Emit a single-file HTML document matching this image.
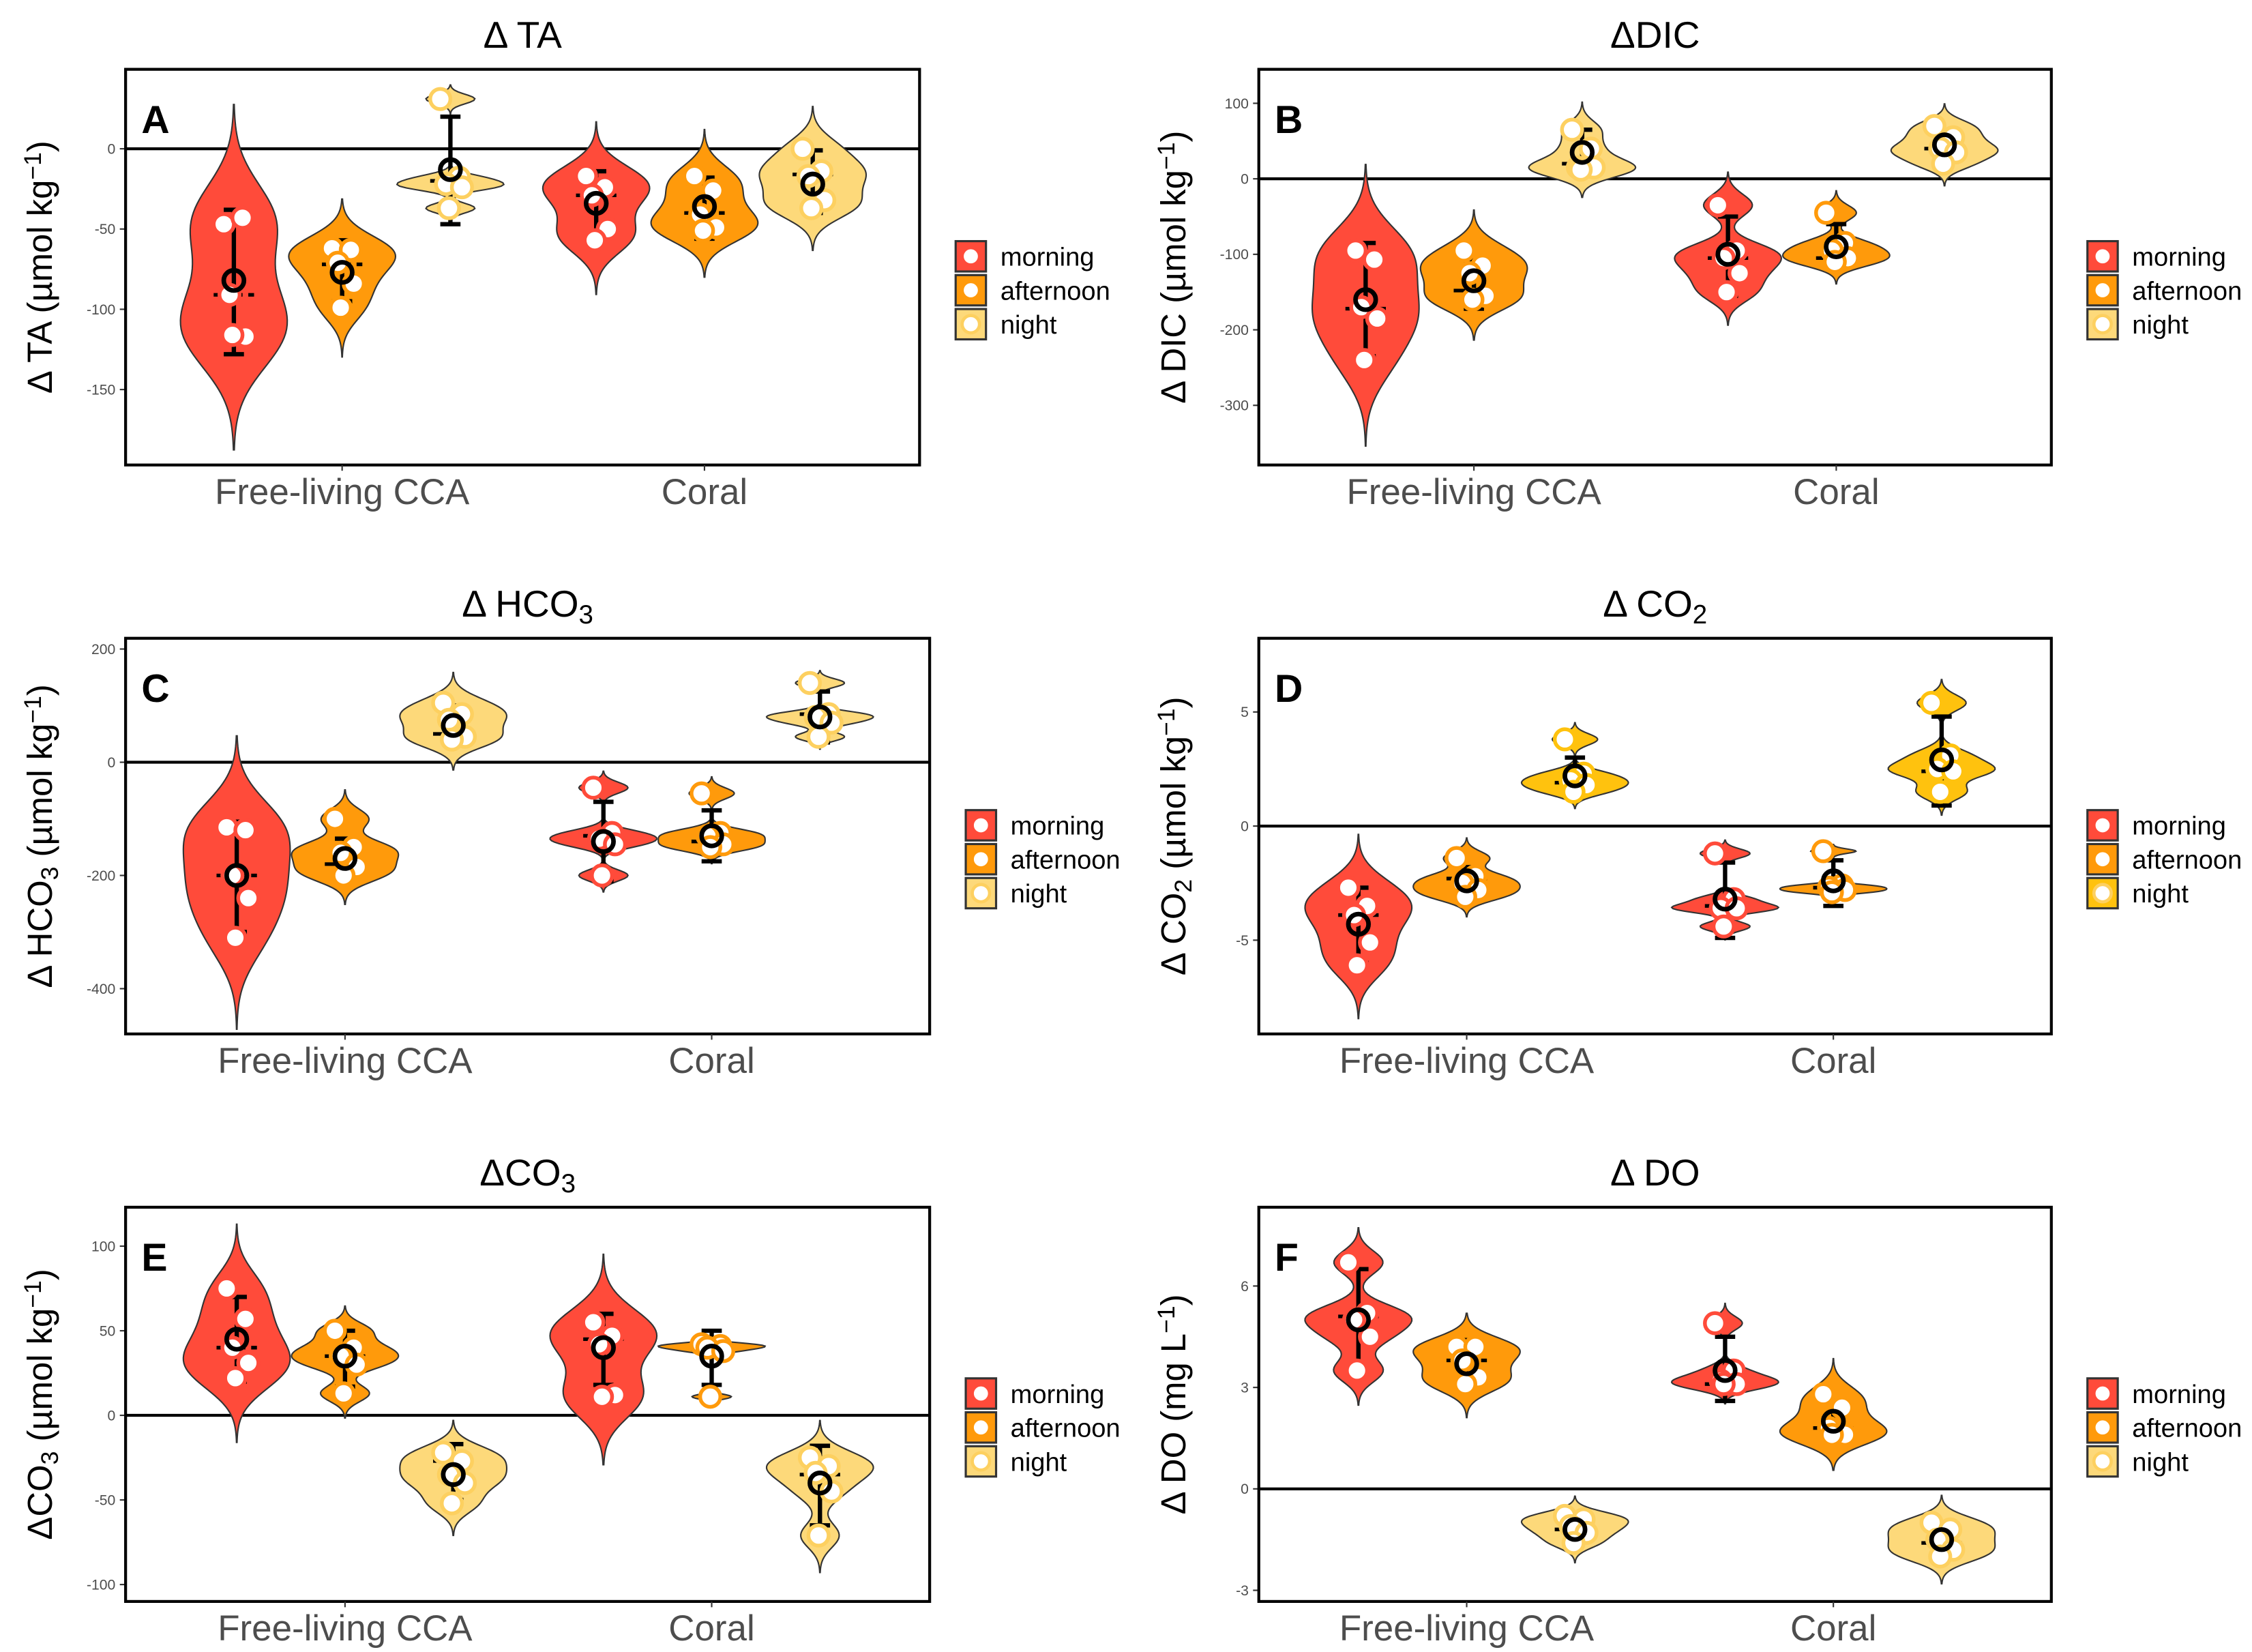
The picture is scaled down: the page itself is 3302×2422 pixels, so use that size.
<!DOCTYPE html>
<html><head><meta charset="utf-8"><style>
html,body{margin:0;padding:0;background:#fff;}
svg{display:block;}
text{font-family:"Liberation Sans",sans-serif;}
</style></head><body>
<svg id="fig" width="3302" height="2422" viewBox="0 0 1560 1144" preserveAspectRatio="none" xmlns="http://www.w3.org/2000/svg"></svg>
<script>
// ===== data =====
const categories = ["Free-living CCA","Coral"];
const times = ["morning","afternoon","night"];
// order per array: [CCA-morning, CCA-afternoon, CCA-night, Coral-morning, Coral-afternoon, Coral-night]
const taPts = [[-47,-43,-91,-117,-116],[-62,-63,-71,-84,-99],[31,-18,-22,-24,-37],[-17,-24,-29,-50,-57],[-17,-26,-41,-49,-51],[0,-14,-17,-32,-37]];
const taMean = [-82,-77,-13,-34,-36,-22];
const taMed = [-91,-72,-20,-29,-40,-16];
const taLo = [-128,-95,-47,-57,-56,-40];
const taHi = [-38,-57,20,-14,-18,-1];
const taTicks = [0,-50,-100,-150];

const dicPts = [[-95,-107,-170,-185,-240],[-95,-115,-125,-155,-160],[65,40,15,15,12],[-35,-95,-105,-125,-150],[-45,-85,-95,-105,-110],[70,55,40,35,20]];
const dicMean = [-160,-135,35,-100,-90,45];
const dicMed = [-172,-148,20,-105,-105,40];
const dicLo = [-235,-172,12,-155,-115,25];
const dicHi = [-85,-108,65,-50,-60,65];
const dicTicks = [100,0,-100,-200,-300];

const hco3Pts = [[-115,-120,-200,-240,-310],[-100,-150,-160,-185,-200],[105,85,75,45,40],[-45,-125,-135,-145,-200],[-55,-125,-130,-145,-150],[140,85,80,70,45]];
const hco3Mean = [-200,-170,65,-140,-130,80];
const hco3Med = [-200,-180,50,-130,-140,85];
const hco3Lo = [-300,-200,30,-210,-175,35];
const hco3Hi = [-105,-135,100,-70,-85,125];
const hco3Ticks = [200,0,-200,-400];

const co2Pts = [[-2.7,-3.5,-3.9,-5.1,-6.1],[-1.4,-2.2,-2.5,-2.8,-3.1],[3.8,2.3,2.0,1.8,1.5],[-1.2,-3.2,-3.6,-3.6,-4.4],[-1.1,-2.6,-2.7,-2.8,-2.9],[5.4,3.1,2.5,2.4,1.5]];
const co2Mean = [-4.3,-2.4,2.2,-3.2,-2.4,2.9];
const co2Med = [-3.9,-2.3,1.9,-3.5,-2.7,2.4];
const co2Lo = [-6.0,-3.0,1.5,-4.9,-3.5,0.9];
const co2Hi = [-2.7,-1.8,3.0,-1.6,-1.5,4.8];
const co2Ticks = [5,0,-5];

const co3Pts = [[75,57,40,31,22],[50,40,35,30,13],[-22,-27,-35,-40,-52],[55,47,42,12,11],[42,41,40,38,11],[-25,-30,-34,-45,-71]];
const co3Mean = [45,35,-35,40,35,-40];
const co3Med = [40,35,-27,45,39,-35];
const co3Lo = [20,17,-50,18,18,-65];
const co3Hi = [70,50,-17,60,50,-18];
const co3Ticks = [100,50,0,-50,-100];

const doPts = [[6.7,5.2,5.0,4.5,3.5],[4.2,4.2,3.8,3.3,3.1],[-0.8,-0.9,-1.1,-1.3,-1.6],[4.9,3.5,3.2,3.1,3.1],[2.8,2.4,1.8,1.6,1.6],[-1.0,-1.2,-1.5,-1.8,-2.0]];
const doMean = [5.0,3.7,-1.2,3.5,2.0,-1.5];
const doMed = [5.1,3.8,-1.2,3.1,1.8,-1.6];
const doLo = [3.5,3.1,-1.6,2.6,1.5,-1.9];
const doHi = [6.5,4.4,-0.8,4.5,2.6,-1.1];
const doTicks = [6,3,0,-3];

// ===== layout =====
const NS="http://www.w3.org/2000/svg";
const svg=document.getElementById('fig');
function el(tag,attrs,parent){const e=document.createElementNS(NS,tag);for(const k in attrs)e.setAttribute(k,attrs[k]);(parent||svg).appendChild(e);return e;}
const fills={morning:"#FF4B3A",afternoon:"#FF9A0B",night:"#FDD97A"};
const strokes={morning:"#FF4B3A",afternoon:"#FF9A0B",night:"#FDD060"};
const panels=[
 {id:"ta",letter:"A",title:[["Δ TA"]],ylab:[["Δ TA (µmol kg"],["−1","sup"],[")"]],pts:taPts,mean:taMean,med:taMed,lo:taLo,hi:taHi,ticks:taTicks,box:[87,48,637,322],dom:[49.5,-197],cx:[237,488],night:"#FDD97A"},
 {id:"dic",letter:"B",title:[["ΔDIC"]],ylab:[["Δ DIC (µmol kg"],["−1","sup"],[")"]],pts:dicPts,mean:dicMean,med:dicMed,lo:dicLo,hi:dicHi,ticks:dicTicks,box:[872,48,1421,322],dom:[145,-379],cx:[1021,1272],night:"#FDD97A"},
 {id:"hco3",letter:"C",title:[["Δ HCO"],["3","sub"]],ylab:[["Δ HCO"],["3","sub"],[" (µmol kg"],["−1","sup"],[")"]],pts:hco3Pts,mean:hco3Mean,med:hco3Med,lo:hco3Lo,hi:hco3Hi,ticks:hco3Ticks,box:[87,442,644,716],dom:[219,-480],cx:[239,493],night:"#FDD97A"},
 {id:"co2",letter:"D",title:[["Δ CO"],["2","sub"]],ylab:[["Δ CO"],["2","sub"],[" (µmol kg"],["−1","sup"],[")"]],pts:co2Pts,mean:co2Mean,med:co2Med,lo:co2Lo,hi:co2Hi,ticks:co2Ticks,box:[872,442,1421,716],dom:[8.23,-9.11],cx:[1016,1270],night:"#FFC20E"},
 {id:"co3",letter:"E",title:[["ΔCO"],["3","sub"]],ylab:[["ΔCO"],["3","sub"],[" (µmol kg"],["−1","sup"],[")"]],pts:co3Pts,mean:co3Mean,med:co3Med,lo:co3Lo,hi:co3Hi,ticks:co3Ticks,box:[87,836,644,1109],dom:[123,-110],cx:[239,493],night:"#FDD97A"},
 {id:"do",letter:"F",title:[["Δ DO"]],ylab:[["Δ DO (mg L"],["−1","sup"],[")"]],pts:doPts,mean:doMean,med:doMed,lo:doLo,hi:doHi,ticks:doTicks,box:[872,836,1421,1109],dom:[8.33,-3.33],cx:[1016,1270],night:"#FDD97A"}
];
const jit=[-7,6,-3,8,-1];
function richText(parts,attrs,parent,name){
  const t=el('text',attrs,parent);
  
  
  parts.forEach(p=>{const s=el('tspan',{},t);s.textContent=p[0];
    if(p[1]==='sub'){s.setAttribute('baseline-shift','-25%');s.setAttribute('font-size','70%');}
    if(p[1]==='sup'){s.setAttribute('baseline-shift','45%');s.setAttribute('font-size','70%');}});
  return t;
}
function sd(a){const m=a.reduce((s,v)=>s+v,0)/a.length;return Math.sqrt(a.reduce((s,v)=>s+(v-m)*(v-m),0)/(a.length-1));}
function quant(a,p){const s=[...a].sort((x,y)=>x-y);const h=(s.length-1)*p;const lo=Math.floor(h);return s[lo]+(h-lo)*((s[Math.min(lo+1,s.length-1)])-s[lo]);}
function nrd0(a){const hi=sd(a);const iqr=(quant(a,.75)-quant(a,.25))/1.34;let lo=Math.min(hi,iqr);if(!(lo>0))lo=hi||Math.abs(a[0])||1;return 0.9*lo*Math.pow(a.length,-0.2);}

panels.forEach(P=>{
  const g=el('g',{});
  
  
  const [x0,y0,x1,y1]=P.box;
  const Y=v=>y0+(P.dom[0]-v)/(P.dom[0]-P.dom[1])*(y1-y0);
  const midX=(x0+x1)/2;
  richText(P.title,{x:midX,y:y0-15,'text-anchor':'middle','font-size':26},g,'panel-title');
  richText(P.ylab,{transform:`translate(${x0-51},${(y0+y1)/2}) rotate(-90)`,'text-anchor':'middle','font-size':24},g,'y-axis-title');
  P.ticks.forEach(t=>{
    const y=Y(t);
    const l=el('line',{x1:x0-4,x2:x0,y1:y,y2:y,stroke:'#333','stroke-width':1},g);
    
    const tx=el('text',{x:x0-7,y:y+3.5,'text-anchor':'end','font-size':10,fill:'#4d4d4d'},g);
    
    tx.textContent=t;
  });
  const z=el('line',{x1:x0,x2:x1,y1:Y(0),y2:Y(0),stroke:'#000','stroke-width':2},g);
  
  const dodge=75,hw=37;
  for(let i=0;i<6;i++){
    const cat=Math.floor(i/3),tm=times[i%3];
    const cx=P.cx[cat]+(i%3-1)*dodge;
    const pts=P.pts[i];
    const bw=nrd0(pts);
    const vmin=Math.min(...pts)-3*bw,vmax=Math.max(...pts)+3*bw;
    const N=80,dens=[];
    for(let k=0;k<=N;k++){const v=vmin+(vmax-vmin)*k/N;let d=0;pts.forEach(p=>{const u=(v-p)/bw;d+=Math.exp(-.5*u*u);});dens.push([v,d]);}
    const dm=Math.max(...dens.map(d=>d[1]));
    let dp='';
    dens.forEach((d,k)=>{dp+=(k?'L':'M')+(cx+d[1]/dm*hw).toFixed(2)+','+Y(d[0]).toFixed(2);});
    for(let k=N;k>=0;k--){const d=dens[k];dp+='L'+(cx-d[1]/dm*hw).toFixed(2)+','+Y(d[0]).toFixed(2);}
    dp+='Z';
    const fill=tm==='night'?P.night:fills[tm];
    const vio=el('path',{d:dp,fill:fill,stroke:'#333','stroke-width':1},g);
    
    const eb=el('g',{},g);
    
    el('line',{x1:cx,x2:cx,y1:Y(P.lo[i]),y2:Y(P.hi[i]),stroke:'#000','stroke-width':3},eb);
    el('line',{x1:cx-7,x2:cx+7,y1:Y(P.lo[i]),y2:Y(P.lo[i]),stroke:'#000','stroke-width':3},eb);
    el('line',{x1:cx-7,x2:cx+7,y1:Y(P.hi[i]),y2:Y(P.hi[i]),stroke:'#000','stroke-width':3},eb);
    const md=el('line',{x1:cx-14,x2:cx+14,y1:Y(P.med[i]),y2:Y(P.med[i]),stroke:'#000','stroke-width':2.5,'stroke-dasharray':'8,4'},g);
    
    const ps=tm==='night'?(P.night==='#FFC20E'?'#FFC20E':strokes.night):strokes[tm];
    pts.forEach((p,k)=>{
      const c=el('circle',{cx:cx+jit[k],cy:Y(p),r:7,fill:'#fff',stroke:ps,'stroke-width':2.6},g);
      
    });
    const mc=el('circle',{cx:cx,cy:Y(P.mean[i]),r:7,fill:'none',stroke:'#000','stroke-width':3.2},g);
    
  }
  const b=el('rect',{x:x0,y:y0,width:x1-x0,height:y1-y0,fill:'none',stroke:'#000','stroke-width':2},g);
  
  const lt=el('text',{x:x0+11,y:y0+44,'font-size':27,'font-weight':'bold'},g);
  
  lt.textContent=P.letter;
  categories.forEach((c,ci)=>{
    el('line',{x1:P.cx[ci],x2:P.cx[ci],y1:y1,y2:y1+4,stroke:'#333'},g);
    const t=el('text',{x:P.cx[ci],y:y1+27,'text-anchor':'middle','font-size':25,fill:'#4d4d4d'},g);
    
    t.textContent=c;
  });
  const lg=el('g',{},g);
  
  const lx=x1+25,ly=(y0+y1)/2+16;
  times.forEach((tm,k)=>{
    const yy=ly-34+k*23.5;
    const fill=tm==='night'?P.night:fills[tm];
    const ent=el('g',{},lg);
    
    el('rect',{x:lx,y:yy,width:21,height:21,fill:fill,stroke:'#333','stroke-width':1.5},ent);
    el('circle',{cx:lx+10.5,cy:yy+10.5,r:6,fill:'#fff',stroke:tm==='night'?'#FDD060':fills[tm],'stroke-width':2.2},ent);
    const t=el('text',{x:lx+31,y:yy+17,'font-size':18,fill:'#000'},ent);
    t.textContent=tm;
  });
});
</script>
</body></html>
